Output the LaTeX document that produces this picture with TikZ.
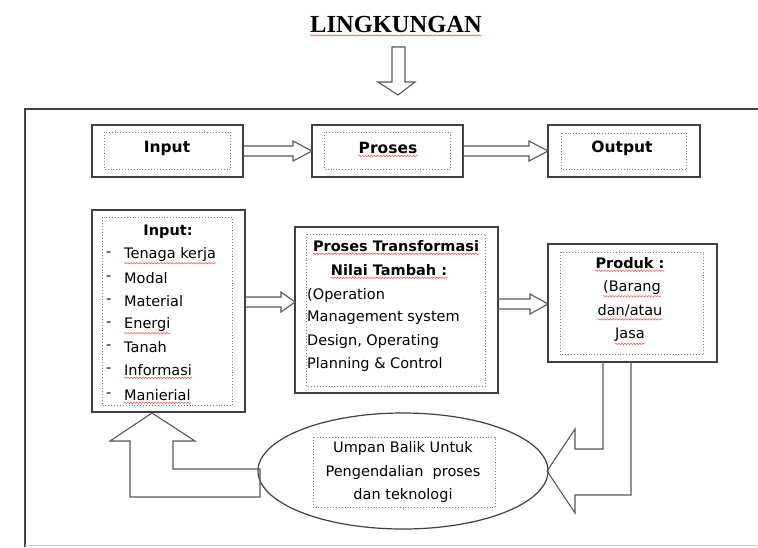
\documentclass[tikz,border=0pt]{standalone}
\usepackage{fontspec}
\setmainfont{DejaVu Sans}
\newfontfamily\titlefont{Liberation Serif}
\usetikzlibrary{calc,shapes.geometric,decorations.pathmorphing}
\begin{document}
\begin{tikzpicture}[x=1pt,y=-1pt,
  outer/.style={draw=black!75, line width=1.3pt, fill=white, inner sep=0pt},
  dotbox/.style={draw=black!50, dotted, line width=0.9pt},
  barrow/.style={draw=black!65, line width=1.1pt, line join=miter},
  body/.style={font=\fontsize{14.5}{23.5}\selectfont, inner sep=0pt},
  bbody/.style={font=\fontsize{14.5}{23.5}\selectfont\bfseries, inner sep=0pt},
  headtxt/.style={font=\fontsize{15.5}{18}\selectfont\bfseries, inner sep=0pt},
  wave/.style={draw=red!70, line width=0.5pt, decorate, decoration={snake, amplitude=0.7pt, segment length=3pt}},
  framel/.style={draw=black!75, line width=1.2pt}]

\useasboundingbox (0,0) rectangle (758,547);
\fill[white] (0,0) rectangle (758,547);

% environment frame
\coordinate (fTR) at (758,109);
\coordinate (fTL) at (25,109);
\coordinate (fBL) at (25,547);
\draw[framel] (fTR) -- (fTL) -- (fBL);
\draw[black!18, line width=0.8pt] (25,545) -- (758,545);

% title
\node[font=\titlefont\fontsize{24.5}{27}\selectfont\bfseries, inner sep=0pt] (title) at (396,25) {LINGKUNGAN};
\draw[wave] ($(title.south west)+(0,2)$) -- ($(title.south east)+(0,2)$);

% down arrow
\draw[barrow] (392,47) -- (405,47) -- (405,82) -- (415,82) -- (398,95) -- (378,82) -- (392,82) -- cycle;

% top row
\node[outer, minimum width=151pt, minimum height=52pt] (inTop) at (167.5,151) {};
\draw[dotbox] ($(inTop.north west)+(13,8)$) rectangle ($(inTop.south east)+(-13,-8)$);
\node[headtxt] (inTopL) at (167,148) {Input};

\node[outer, minimum width=151pt, minimum height=52pt] (prTop) at (387.5,151) {};
\draw[dotbox] ($(prTop.north west)+(13,8)$) rectangle ($(prTop.south east)+(-13,-8)$);
\node[headtxt] (prTopL) at (388,148) {Proses};
\draw[wave] ($(prTopL.south west)+(0,2)$) -- ($(prTopL.south east)+(0,2)$);

\node[outer, minimum width=152pt, minimum height=52pt] (outTop) at (624,151) {};
\draw[dotbox] ($(outTop.north west)+(14,9)$) rectangle ($(outTop.south east)+(-14,-8)$);
\node[headtxt] (outTopL) at (622,148) {Output};

\draw[barrow] (243,146) -- (293,146) -- (293,141) -- (312,151) -- (293,161) -- (293,156) -- (243,156);
\draw[barrow] (463,146) -- (529,146) -- (529,141) -- (548,151) -- (529,161) -- (529,156) -- (463,156);

% input list box
\node[outer, minimum width=153pt, minimum height=202pt] (inBox) at (168.5,311) {};
\draw[dotbox] ($(inBox.north west)+(11,8)$) rectangle ($(inBox.south east)+(-13,-7)$);
\node[bbody] (inTitle) at (168,232) {Input:};
\node[body, anchor=west] (d1) at (106,254) {-};
\node[body, anchor=west] (it1) at (124,254) {Tenaga kerja};
\node[body, anchor=west] (d2) at (106,278) {-};
\node[body, anchor=west] (it2) at (124,278) {Modal};
\node[body, anchor=west] (d3) at (106,301) {-};
\node[body, anchor=west] (it3) at (124,301) {Material};
\node[body, anchor=west] (d4) at (106,324) {-};
\node[body, anchor=west] (it4) at (124,324) {Energi};
\node[body, anchor=west] (d5) at (106,347) {-};
\node[body, anchor=west] (it5) at (124,347) {Tanah};
\node[body, anchor=west] (d6) at (106,370) {-};
\node[body, anchor=west] (it6) at (124,370) {Informasi};
\node[body, anchor=west] (d7) at (106,395) {-};
\node[body, anchor=west] (it7) at (124,395) {Manierial};
\foreach \n in {it1,it4,it6,it7}
  \draw[wave] ($(\n.south west)+(0,2)$) -- ($(\n.south east)+(0,2)$);

% process box
\node[outer, minimum width=203pt, minimum height=166pt] (prBox) at (396.5,310) {};
\draw[dotbox] ($(prBox.north west)+(12.5,8)$) rectangle ($(prBox.south east)+(-13,-7)$);
\node[bbody] (pt1) at (396,246) {Proses Transformasi};
\node[bbody] (pt2) at (389,270) {Nilai Tambah :};
\foreach \n in {pt1,pt2}
  \draw[wave] ($(\n.south west)+(0,2)$) -- ($(\n.south east)+(0,2)$);
\node[body, anchor=west] (pt3) at (307,295) {(Operation};
\node[body, anchor=west] (pt4) at (307,318) {Management system};
\node[body, anchor=west] (pt5) at (307,341) {Design, Operating};
\node[body, anchor=west] (pt6) at (307,364) {Planning \& Control};

% product box
\node[outer, minimum width=169pt, minimum height=118pt] (pdBox) at (632.5,303) {};
\draw[dotbox] ($(pdBox.north west)+(13,9)$) rectangle ($(pdBox.south east)+(-14,-8)$);
\node[bbody] (pd1) at (630,263) {Produk :};
\node[body] (pd2) at (632,287) {(Barang};
\node[body] (pd3) at (630,311) {dan/atau};
\node[body] (pd4) at (630,335) {Jasa};
\foreach \n in {pd1,pd2,pd3,pd4}
  \draw[wave] ($(\n.south west)+(0,2)$) -- ($(\n.south east)+(0,2)$);

% middle arrows
\draw[barrow] (245,297) -- (281,297) -- (281,292) -- (295,302) -- (281,312) -- (281,307) -- (245,307);
\draw[barrow] (498,299) -- (530,299) -- (530,294) -- (548,304) -- (530,314) -- (530,309) -- (498,309);

% feedback ellipse
\node[draw=black!75, line width=1.2pt, ellipse, minimum width=290pt, minimum height=116pt, inner sep=0pt] (fb) at (403,471) {};
\draw[dotbox] ($(fb.center)+(-90,-34)$) rectangle ($(fb.center)+(92,36)$);
\node[body, align=center] (fbT) at (403,472) {Umpan Balik Untuk\\Pengendalian\ \ proses\\dan teknologi};

% feedback block arrows
\draw[barrow] (603,362) -- (603,449) -- (575,449) -- (575,429) -- (547,471) -- (575,513) -- (575,495) -- (631,495) -- (631,362);
\draw[barrow] (260,469) -- (173,469) -- (173,441) -- (195,441) -- (152,413) -- (110,441) -- (130,441) -- (130,497) -- (260,497) -- cycle;
\end{tikzpicture}
\end{document}
